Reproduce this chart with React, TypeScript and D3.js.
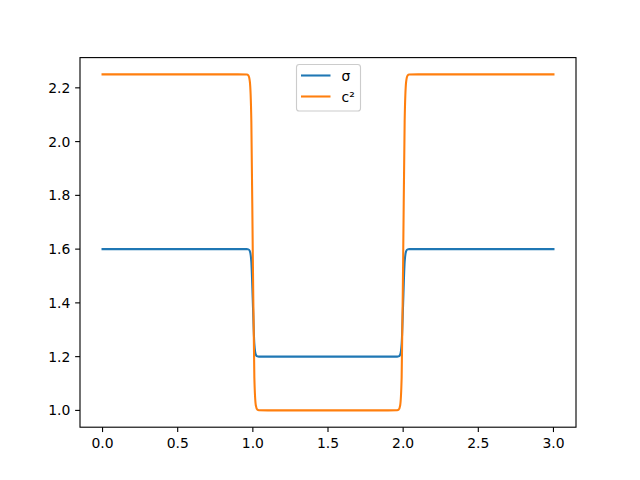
import React from "react";
import * as d3 from "d3";

const xs = [0, 0.9, 0.96, 0.97, 0.98, 0.99, 1.0, 1.01, 1.02, 1.03, 1.04, 1.1, 1.9, 1.96, 1.97, 1.98, 1.99, 2.0, 2.01, 2.02, 2.03, 2.04, 2.1, 3.0];
const sigma = [1.6, 1.6, 1.6, 1.599, 1.5928, 1.5524, 1.4, 1.2476, 1.2072, 1.201, 1.2, 1.2, 1.2, 1.2, 1.201, 1.2072, 1.2476, 1.4, 1.5524, 1.5928, 1.599, 1.6, 1.6, 1.6];
const c2 = [2.25, 2.25, 2.2496, 2.2463, 2.2231, 2.075, 1.5625, 1.1225, 1.0181, 1.0025, 1.0006, 1.0, 1.0, 1.0006, 1.0025, 1.0181, 1.1225, 1.5625, 2.075, 2.2231, 2.2463, 2.2496, 2.25, 2.25];
const xTicks = [0, 0.5, 1.0, 1.5, 2.0, 2.5, 3.0];
const yTicks = [1.0, 1.2, 1.4, 1.6, 1.8, 2.0, 2.2];
const seriesNames = ["σ", "c²"];
const colors = ["#1f77b4", "#ff7f0e"];

export default function App() {
  const W = 640, H = 480;
  const L = 80, R = 576, T = 57.6, B = 427.2;
  const x = d3.scaleLinear().domain([-0.15, 3.15]).range([L, R]);
  const y = d3.scaleLinear().domain([0.9375, 2.3125]).range([B, T]);
  const line = d3.line<number>().x((_, i) => x(xs[i])).y((v) => y(v)).curve(d3.curveMonotoneX);
  const font = "DejaVu Sans, sans-serif";
  const series = [sigma, c2];
  return (
    <svg width={W} height={H} style={{ position: "absolute", left: 0, top: 0, background: "#fff" }}>
      <rect x={0} y={0} width={W} height={H} fill="#fff" />
      <defs>
        <clipPath id="clip"><rect x={L} y={T} width={R - L} height={B - T} /></clipPath>
      </defs>
      <g clipPath="url(#clip)">
        {series.map((s, i) => (
          <path key={i} d={line(s) || ""} fill="none" stroke={colors[i]} strokeWidth={2.08} strokeLinejoin="round" strokeLinecap="square" />
        ))}
      </g>
      <rect x={L} y={T} width={R - L} height={B - T} fill="none" stroke="#000" strokeWidth={1.11} />
      {xTicks.map((t) => (
        <g key={t}>
          <line x1={x(t)} x2={x(t)} y1={B} y2={B + 4.86} stroke="#000" strokeWidth={1.11} />
          <text x={x(t)} y={B + 4.86 + 4.86 + 11} textAnchor="middle" fontFamily={font} fontSize={13.9}>{t.toFixed(1)}</text>
        </g>
      ))}
      {yTicks.map((t) => (
        <g key={t}>
          <line x1={L} x2={L - 4.86} y1={y(t)} y2={y(t)} stroke="#000" strokeWidth={1.11} />
          <text x={L - 4.86 - 4.86} y={y(t)} dy="0.36em" textAnchor="end" fontFamily={font} fontSize={13.9}>{t.toFixed(1)}</text>
        </g>
      ))}
      <g>
        <rect x={296.5} y={64.5} width={64} height={46.5} rx={2.8} fill="#fff" fillOpacity={0.8} stroke="#ccc" strokeWidth={1.11} />
        {seriesNames.map((n, i) => (
          <g key={n}>
            <line x1={301} x2={330.5} y1={75.5 + i * 21} y2={75.5 + i * 21} stroke={colors[i]} strokeWidth={2.08} />
            <text x={341.5} y={75.5 + i * 21} dy="0.36em" fontFamily={font} fontSize={13.9}>{n}</text>
          </g>
        ))}
      </g>
    </svg>
  );
}
